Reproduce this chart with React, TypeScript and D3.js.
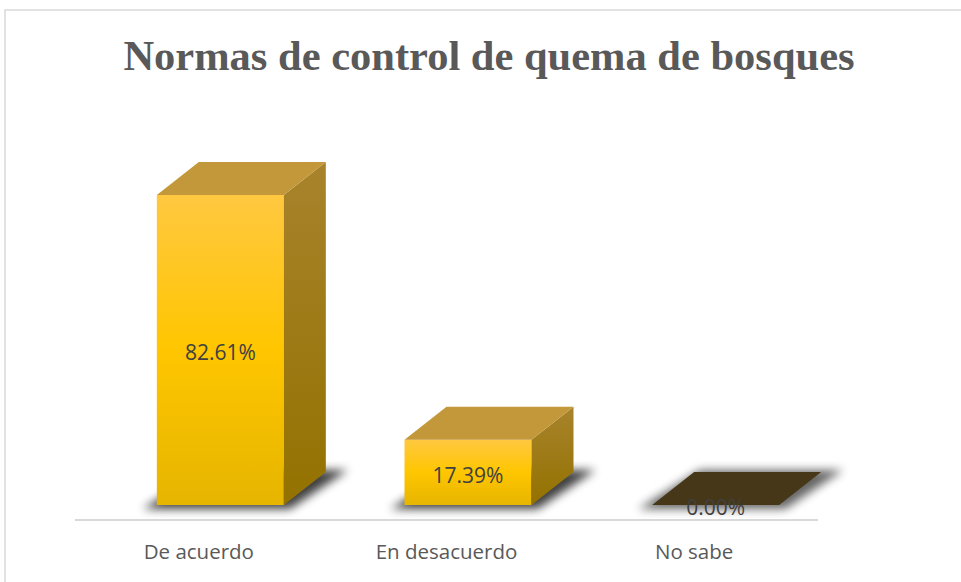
import React from 'react';
import * as d3 from 'd3';

const categories = ['De acuerdo', 'En desacuerdo', 'No sabe'];
const values = [0.8261, 0.1739, 0.0];
const valueLabels = ['82.61%', '17.39%', '0.00%'];
const title = 'Normas de control de quema de bosques';

const W = 961;
const H = 582;

const App = () => {
  // category band across the floor line
  const x = d3.scaleBand<string>().domain(categories).range([75, 818]);
  // value scale, base of the bars at 505
  const y = d3.scaleLinear().domain([0, 1]).range([505, 129.7]);

  const dx = 42; // depth offsets
  const dy = -33;
  const barW = 127;

  const poly = (pts: [number, number][]) => 'M' + pts.map(p => p.join(',')).join('L') + 'Z';

  return (
    <div style={{ position: 'absolute', left: 0, top: 0 }}>
      <svg width={W} height={H} style={{ display: 'block' }}>
        <defs>
          <linearGradient id="front" x1="0" y1="0" x2="0" y2="1">
            <stop offset="0%" stopColor="#FFC840" />
            <stop offset="50%" stopColor="#FFC600" />
            <stop offset="100%" stopColor="#E6B500" />
          </linearGradient>
          <linearGradient id="side" x1="0" y1="0" x2="0" y2="1">
            <stop offset="0%" stopColor="#A8832C" />
            <stop offset="100%" stopColor="#937200" />
          </linearGradient>
          <filter id="blur" x="-30%" y="-100%" width="160%" height="300%">
            <feGaussianBlur stdDeviation="5" />
          </filter>
        </defs>

        <rect x={5} y={10} width={990} height={620} fill="#fff" stroke="#D9D9D9" strokeWidth={1.5} />

        <text
          x={489}
          y={70}
          textAnchor="middle"
          fontFamily="'Liberation Serif', 'Times New Roman', serif"
          fontWeight="bold"
          fontSize={42.5}
          fill="#595959"
        >
          {title}
        </text>

        <line x1={75} x2={818} y1={520} y2={520} stroke="#D9D9D9" strokeWidth={2} />

        {categories.map((c, i) => {
          const cx = (x(c) as number) + x.bandwidth() / 2;
          const x0 = cx - dx;
          const x1 = x0 + barW;
          const yb = y(0);
          const yt = y(values[i]);
          const zero = values[i] === 0;
          const shadow: [number, number][] = [
            [x0 - 14, yb + 4],
            [x1 + 6, yb + 4],
            [x1 + dx + 22, yb + dy - 2],
            [x0 + dx + 6, yb + dy - 2],
          ];
          return (
            <g key={c}>
              <path d={poly(shadow)} fill="#000" opacity={zero ? 0.6 : 0.75} filter="url(#blur)" />
              {!zero && (
                <>
                  <rect x={x0} y={yt} width={barW} height={yb - yt} fill="url(#front)" />
                  <path
                    d={poly([[x1, yt], [x1 + dx, yt + dy], [x1 + dx, yb + dy], [x1, yb]])}
                    fill="url(#side)"
                  />
                </>
              )}
              <path
                d={poly([[x0, yt], [x0 + dx, yt + dy], [x1 + dx, yt + dy], [x1, yt]])}
                fill={zero ? '#463718' : '#C3983A'}
              />
              <text
                x={x0 + barW / 2}
                y={(yt + yb) / 2 + 3}
                dy="0.35em"
                textAnchor="middle"
                fontFamily="'Open Sans', 'Liberation Sans', sans-serif"
                fontSize={21}
                fill="#404040"
              >
                {valueLabels[i]}
              </text>
              <text
                x={cx}
                y={559}
                textAnchor="middle"
                fontFamily="'Open Sans', 'Liberation Sans', sans-serif"
                fontSize={20.5}
                fill="#595959"
              >
                {c}
              </text>
            </g>
          );
        })}
      </svg>
    </div>
  );
};

export default App;
